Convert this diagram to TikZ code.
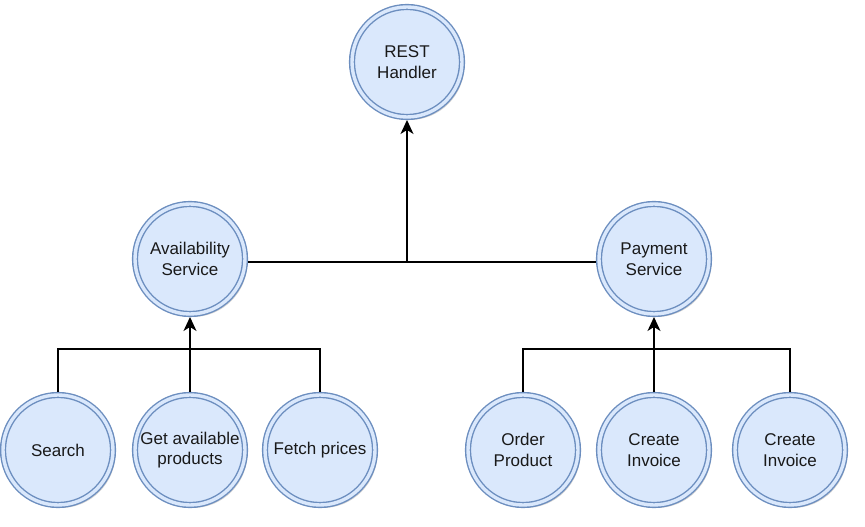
\documentclass[tikz,border=0pt]{standalone}
\usepackage{fontspec}
\setmainfont{Liberation Sans}
\usetikzlibrary{arrows.meta,shadows}
\definecolor{nodefill}{HTML}{DAE8FC}
\definecolor{nodeline}{HTML}{6C8EBF}
\tikzset{
  svc/.style={circle, draw=nodeline, fill=nodefill, double=nodefill, double distance=3.4pt,
    line width=1.4pt, minimum size=110pt, inner sep=0pt, outer sep=3pt, align=center,
    font=\fontsize{17}{20.5}\selectfont, text=black!90,
    drop shadow={shadow xshift=2.5pt, shadow yshift=-3pt, opacity=0.18, fill=black}},
  link/.style={line width=1.4pt, black},
  arrowlink/.style={link, arrows={-Stealth[length=14pt 0, width=13pt 0, inset=4pt]}}
}
\begin{document}
\begin{tikzpicture}[x=1pt,y=1pt]
\useasboundingbox (0,0) rectangle (865,527);
\node[svc] (rest) at (407,465) {REST\\Handler};
\node[svc] (avail) at (190,268) {Availability\\Service};
\node[svc] (pay) at (654,268) {Payment\\Service};
\node[svc] (search) at (58,77) {Search};
\node[svc] (get) at (190,77) {Get available\\products};
\node[svc] (fetch) at (320,77) {Fetch prices};
\node[svc] (order) at (523,77) {Order\\Product};
\node[svc] (inv1) at (654,77) {Create\\Invoice};
\node[svc] (inv2) at (790,77) {Create\\Invoice};
\coordinate (bus) at (0,178);
% main bus
\draw[link] (avail.-3) -- (pay.183);
\draw[arrowlink] (avail.-3 -| rest.south) -- (rest.south);
% left group
\draw[link] (search.north) |- (fetch.north |- bus) -- (fetch.north);
\draw[arrowlink] (get.north) -- (avail.south);
% right group
\draw[link] (order.north) |- (inv2.north |- bus) -- (inv2.north);
\draw[arrowlink] (inv1.north) -- (pay.south);
\end{tikzpicture}
\end{document}
